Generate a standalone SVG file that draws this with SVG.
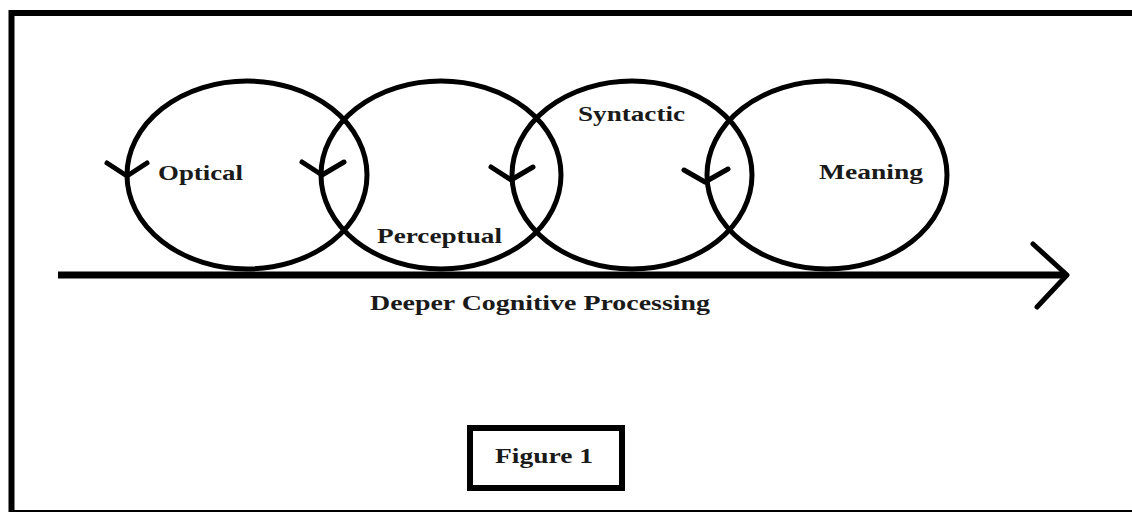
<svg xmlns="http://www.w3.org/2000/svg" width="1132" height="512" viewBox="0 0 1132 512">
<style>
.ring{fill:none;stroke:#000;stroke-width:5}
.chev{fill:none;stroke:#000;stroke-width:5;stroke-linecap:round;stroke-linejoin:round}
.lbl{font-family:"Liberation Serif","Times New Roman",serif;font-weight:bold;font-size:21px;fill:#1a1a1a}
</style>
<rect width="1132" height="512" fill="#fff"/>
<g id="frame">
<path d="M11.5 512 V13 H1132" fill="none" stroke="#000" stroke-width="6"/>
<line x1="11" y1="511" x2="1132" y2="511" stroke="#000" stroke-width="2"/>
</g>
<g id="connectors">
<line x1="58" y1="275" x2="1066" y2="275" stroke="#000" stroke-width="7"/>
<polyline class="chev" points="1033,244 1067,275 1037,307" stroke-width="6"/>
<polyline class="chev" points="107,163 127,176 147,163"/>
<polyline class="chev" points="302,162 322,175 344,162"/>
<polyline class="chev" points="491,167 511,180 533,167"/>
<polyline class="chev" points="684,170 705,182 728,169"/>
</g>
<g id="optical">
<ellipse class="ring" cx="247" cy="175" rx="120" ry="94"/>
<text class="lbl" x="158" y="180" textLength="85" lengthAdjust="spacingAndGlyphs">Optical</text>
</g>
<g id="perceptual">
<ellipse class="ring" cx="441" cy="175" rx="120" ry="94"/>
<text class="lbl" x="377" y="243" textLength="125" lengthAdjust="spacingAndGlyphs">Perceptual</text>
</g>
<g id="syntactic">
<ellipse class="ring" cx="632" cy="175" rx="120" ry="94"/>
<text class="lbl" x="578" y="121" textLength="107" lengthAdjust="spacingAndGlyphs">Syntactic</text>
</g>
<g id="meaning">
<ellipse class="ring" cx="827" cy="175" rx="120" ry="94"/>
<text class="lbl" x="819" y="179" textLength="104" lengthAdjust="spacingAndGlyphs">Meaning</text>
</g>
<g id="axis-label">
<text class="lbl" x="370" y="310" textLength="340" lengthAdjust="spacingAndGlyphs">Deeper Cognitive Processing</text>
</g>
<g id="figure-label">
<rect x="470" y="428" width="152" height="60" fill="#fff" stroke="#000" stroke-width="6"/>
<text class="lbl" x="495" y="463" textLength="98" lengthAdjust="spacingAndGlyphs">Figure 1</text>
</g>
</svg>
